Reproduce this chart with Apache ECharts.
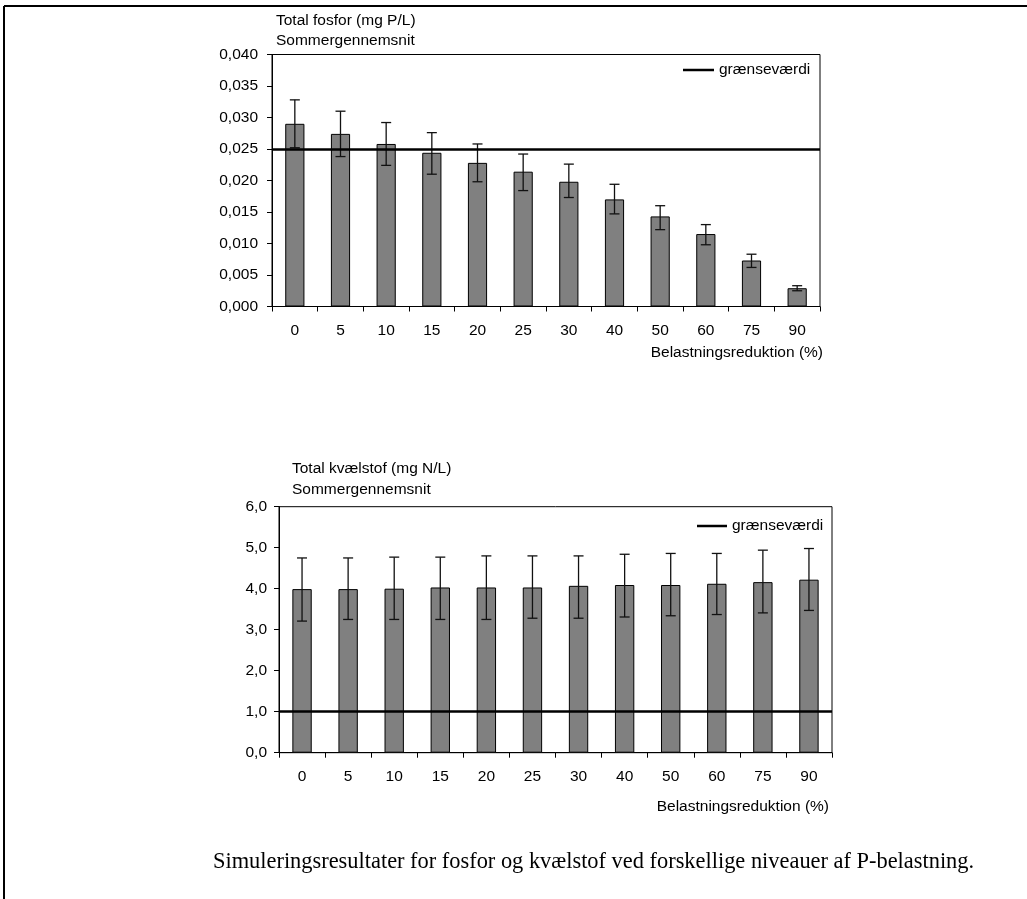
<!DOCTYPE html>
<html>
<head>
<meta charset="utf-8">
<script src="https://cdn.jsdelivr.net/npm/echarts@6/dist/echarts.min.js"></script>
<style>
html,body{margin:0;padding:0;background:#fff;}
#c{width:1027px;height:899px;}
</style>
</head>
<body>
<div id="c"></div>
<script>
const categories = ['0','5','10','15','20','25','30','40','50','60','75','90'];
const pMean = [0.0290,0.0274,0.0258,0.0244,0.0228,0.0214,0.0198,0.0170,0.0143,0.0115,0.0073,0.0029];
const pLow  = [0.0252,0.0238,0.0224,0.0210,0.0198,0.0184,0.0173,0.0147,0.0122,0.0098,0.0062,0.0025];
const pHigh = [0.0328,0.0310,0.0292,0.0276,0.0258,0.0242,0.0226,0.0194,0.0160,0.0130,0.0083,0.0033];
const nMean = [3.99,3.99,4.00,4.03,4.03,4.03,4.07,4.09,4.09,4.12,4.16,4.22];
const nLow  = [3.21,3.25,3.25,3.25,3.25,3.28,3.28,3.31,3.34,3.37,3.41,3.47];
const nHigh = [4.75,4.75,4.77,4.77,4.80,4.80,4.80,4.84,4.86,4.86,4.94,4.98];
const pLimit = 0.025;
const nLimit = 1.0;
const limitName = 'grænseværdi';
const pTitle1 = 'Total fosfor (mg P/L)';
const nTitle1 = 'Total kvælstof (mg N/L)';
const title2 = 'Sommergennemsnit';
const xName = 'Belastningsreduktion (%)';
const caption = 'Simuleringsresultater for fosfor og kvælstof ved forskellige niveauer af P-belastning.';

const FONT = 'Liberation Sans, Arial, sans-serif';
const FS = 15.5;
const chart = echarts.init(document.getElementById('c'), null, {renderer:'canvas'});

function errRender(params, api){
  const x = api.value(0);
  const lo = api.coord([x, api.value(1)]);
  const hi = api.coord([x, api.value(2)]);
  const h = 5;
  const st = {stroke:'#111', lineWidth:1.3};
  return {type:'group', children:[
    {type:'line', shape:{x1:lo[0],y1:lo[1],x2:hi[0],y2:hi[1]}, style:st},
    {type:'line', shape:{x1:hi[0]-h,y1:hi[1],x2:hi[0]+h,y2:hi[1]}, style:st},
    {type:'line', shape:{x1:lo[0]-h,y1:lo[1],x2:lo[0]+h,y2:lo[1]}, style:st}
  ]};
}

function xAxisCfg(gi){
  return {
    gridIndex: gi, type:'category', data: categories, boundaryGap:true,
    axisLine:{lineStyle:{color:'#000', width:1}},
    axisTick:{show:true, length:5, lineStyle:{color:'#000'}},
    axisLabel:{color:'#000', fontFamily:FONT, fontSize:FS, margin:16},
    splitLine:{show:false}
  };
}
function yAxisCfg(gi, max, interval, dec, margin){
  return {
    gridIndex: gi, type:'value', min:0, max:max, interval:interval,
    axisLine:{show:true, lineStyle:{color:'#000', width:1}},
    axisTick:{show:true, length:5, lineStyle:{color:'#000'}},
    axisLabel:{color:'#000', fontFamily:FONT, fontSize:FS, margin:margin,
      formatter: v => v.toFixed(dec).replace('.', ',')},
    splitLine:{show:false}
  };
}
const barStyle = {color:'#808080', borderColor:'#000', borderWidth:1};
function limitSeries(ax, val){
  return {type:'line', name:limitName, xAxisIndex:ax, yAxisIndex:ax, data:[], z:5,
    itemStyle:{color:'#000'}, lineStyle:{color:'#000', width:2.5},
    markLine:{silent:true, precision:6, symbol:['none','none'], label:{show:false},
      lineStyle:{color:'#000', width:2.5, type:'solid'}, data:[{yAxis:val}]}};
}

const option = {
  animation:false,
  backgroundColor:'#fff',
  grid:[
    {left:272, top:54.5, width:548, height:252, show:true, borderColor:'#000', borderWidth:1, backgroundColor:'transparent'},
    {left:279, top:506.7, width:553, height:246, show:true, borderColor:'#000', borderWidth:1, backgroundColor:'transparent'}
  ],
  xAxis:[xAxisCfg(0), xAxisCfg(1)],
  yAxis:[yAxisCfg(0, 0.040, 0.005, 3, 14), yAxisCfg(1, 6, 1, 1, 12)],
  legend:[
    {data:[limitName], left:683, top:62, padding:0, itemWidth:31, itemHeight:2.5, icon:'rect',
     textStyle:{color:'#000', fontFamily:FONT, fontSize:FS}},
    {data:[limitName], left:697, top:518, padding:0, itemWidth:30, itemHeight:2.5, icon:'rect',
     textStyle:{color:'#000', fontFamily:FONT, fontSize:FS}}
  ],
  series:[
    {type:'bar', xAxisIndex:0, yAxisIndex:0, data:pMean, barWidth:'42%', itemStyle:barStyle, silent:true},
    {type:'custom', xAxisIndex:0, yAxisIndex:0, renderItem:errRender, z:4,
     data: categories.map((c,i)=>[i, pLow[i], pHigh[i]])},
    limitSeries(0, pLimit),
    {type:'bar', xAxisIndex:1, yAxisIndex:1, data:nMean, barWidth:'42%', itemStyle:barStyle, silent:true},
    {type:'custom', xAxisIndex:1, yAxisIndex:1, renderItem:errRender, z:4,
     data: categories.map((c,i)=>[i, nLow[i], nHigh[i]])},
    limitSeries(1, nLimit)
  ],
  graphic:[
    {type:'line', shape:{x1:4, y1:6, x2:1027, y2:6}, style:{stroke:'#000', lineWidth:2}},
    {type:'line', shape:{x1:4, y1:6, x2:4, y2:899}, style:{stroke:'#000', lineWidth:2}},
    {type:'text', left:276, top:13, style:{text:pTitle1, font:FS+'px '+FONT, fill:'#000'}},
    {type:'text', left:276, top:33, style:{text:title2, font:FS+'px '+FONT, fill:'#000'}},
    {type:'text', left:292, top:461, style:{text:nTitle1, font:FS+'px '+FONT, fill:'#000'}},
    {type:'text', left:292, top:482, style:{text:title2, font:FS+'px '+FONT, fill:'#000'}},
    {type:'text', right:1027-823, top:345, style:{text:xName, font:FS+'px '+FONT, fill:'#000'}},
    {type:'text', right:1027-829, top:799, style:{text:xName, font:FS+'px '+FONT, fill:'#000'}},
    {type:'text', left:213, top:851, style:{text:caption, font:'22.4px Liberation Serif, Times New Roman, serif', fill:'#000'}}
  ]
};
chart.setOption(option);
</script>
</body>
</html>
